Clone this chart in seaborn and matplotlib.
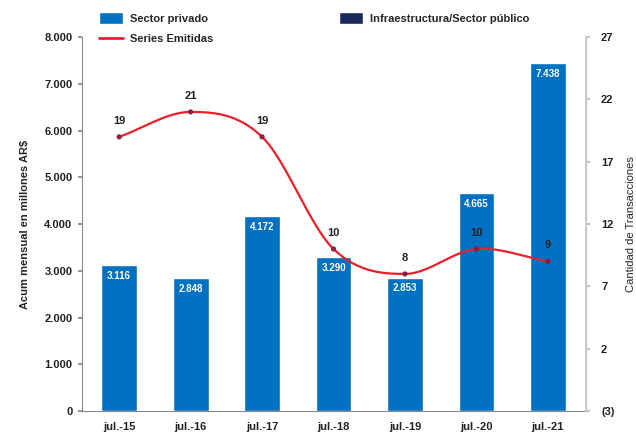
import numpy as np
import pandas as pd
import matplotlib
matplotlib.use("Agg")
import matplotlib.pyplot as plt
import seaborn as sns
from matplotlib.patches import Patch
from matplotlib.lines import Line2D
from matplotlib.ticker import FuncFormatter

categories = ["jul.-15", "jul.-16", "jul.-17", "jul.-18", "jul.-19", "jul.-20", "jul.-21"]
privado = [3116, 2848, 4172, 3290, 2853, 4665, 7438]
publico = [0, 0, 0, 0, 0, 0, 0]
series = [19, 21, 19, 10, 8, 10, 9]

sns.set_theme(style="white")
plt.rcParams['font.family'] = ['Liberation Sans', 'DejaVu Sans']

c_priv = "#0070C0"
c_pub = "#1B2A5E"
c_line = "#E8202A"

fig = plt.figure(figsize=(6.36, 4.32), dpi=100)
ax = fig.add_axes([0.129, 0.0486, 0.792, 0.8654])

df = pd.DataFrame({"cat": categories, "privado": privado})
sns.barplot(data=df, x="cat", y="privado", color=c_priv, width=0.5, ax=ax,
            saturation=1, order=categories)
ax.set_xlim(-0.52, 6.53)
ax.set_ylim(0, 8000)
ax.set_yticks(np.arange(0, 8001, 1000))
ax.yaxis.set_major_formatter(FuncFormatter(lambda v, p: f"{int(v):,}".replace(",", ".")))
ax.set_xlabel("")
ax.set_ylabel("Acum mensual en millones AR$", fontsize=8, fontweight="bold", labelpad=10)
for lab in ax.get_xticklabels() + ax.get_yticklabels():
    lab.set_fontsize(8)
    lab.set_fontweight("bold")
    lab.set_color("#222222")
ax.spines["top"].set_visible(False)
for s in ["left", "bottom", "right"]:
    ax.spines[s].set_color("#888888")
    ax.spines[s].set_linewidth(0.8)
ax.tick_params(axis="y", which="both", left=True, length=3, color="#888888", pad=4)
ax.tick_params(axis="x", bottom=False, pad=2)

for i, v in enumerate(privado):
    ax.text(i, v - 120, f"{v:,}".replace(",", "."), ha="center", va="top",
            color="white", fontsize=7, fontweight="bold")

ax2 = ax.twinx()
ax2.set_ylim(-3, 27)
ax2.set_yticks([-3, 2, 7, 12, 17, 22, 27])
ax2.yaxis.set_major_formatter(FuncFormatter(lambda v, p: f"({abs(int(v))})" if v < 0 else f"{int(v)}"))
for lab in ax2.get_yticklabels():
    lab.set_fontsize(8)
    lab.set_fontweight("bold")
    lab.set_color("#222222")
ax2.tick_params(axis="y", right=True, length=3, color="#bbbbbb", pad=8)
ax2.set_ylabel("Cantidad de Transacciones", fontsize=8, labelpad=8)
for s in ["top", "left", "bottom"]:
    ax2.spines[s].set_visible(False)
ax2.spines["right"].set_color("#cccccc")
ax2.grid(False)
ax.grid(False)

# smooth curve (Catmull-Rom through the data points)
x = np.arange(len(series), dtype=float)
y = np.array(series, dtype=float)
P = np.column_stack([x, y])
P = np.vstack([2 * P[0] - P[1], P, 2 * P[-1] - P[-2]])
xs, ys = [], []
t = np.linspace(0, 1, 30)
for k in range(1, len(P) - 2):
    p0, p1, p2, p3 = P[k - 1], P[k], P[k + 1], P[k + 2]
    m1 = (p2 - p0) / 2
    m2 = (p3 - p1) / 2
    h00 = 2 * t**3 - 3 * t**2 + 1
    h10 = t**3 - 2 * t**2 + t
    h01 = -2 * t**3 + 3 * t**2
    h11 = t**3 - t**2
    seg = np.outer(h00, p1) + np.outer(h10, m1) + np.outer(h01, p2) + np.outer(h11, m2)
    xs.extend(seg[:, 0]); ys.extend(seg[:, 1])
ax2.plot(xs, ys, color=c_line, lw=1.6, zorder=3)
sns.scatterplot(x=x, y=y, ax=ax2, color="#8B2040", s=14, zorder=4, edgecolor="none", legend=False)
for i, v in enumerate(series):
    ax2.text(i, v + 0.9, str(v), ha="center", va="bottom", fontsize=8,
             fontweight="bold", color="#222222", zorder=5)

handles1 = [Patch(facecolor=c_priv, label="Sector privado"),
            Line2D([0], [0], color=c_line, lw=2, label="Series Emitidas")]
handles2 = [Patch(facecolor=c_pub, label="Infraestructura/Sector público")]
leg_kw = dict(frameon=False, prop={"size": 8, "weight": "bold"}, handlelength=2.2,
              handleheight=1.2, labelspacing=0.85, handletextpad=0.6)
fig.legend(handles=handles1, loc="upper left", bbox_to_anchor=(0.14, 0.995), **leg_kw)
fig.legend(handles=handles2, loc="upper left", bbox_to_anchor=(0.517, 0.995), **leg_kw)

fig.savefig("out.png", dpi=100)
